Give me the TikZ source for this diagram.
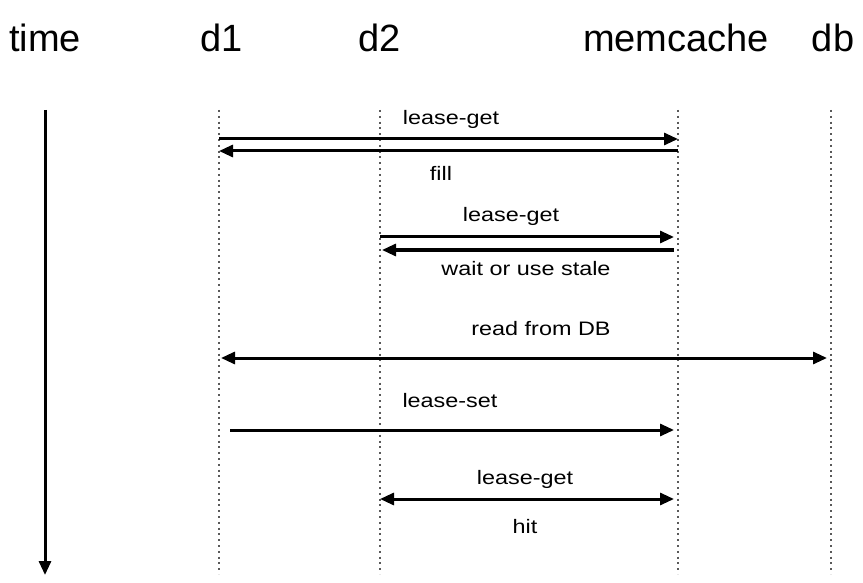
\documentclass[tikz,border=0pt]{standalone}
\usepackage{fontspec}
\setmainfont{Liberation Sans}
\usetikzlibrary{arrows.meta}
\begin{document}
\begin{tikzpicture}[x=1pt,y=-1pt,
  hdr/.style={anchor=base,inner sep=0pt,font=\fontsize{38}{40}\selectfont},
  lbl/.style={anchor=base,inner sep=0pt,font=\fontsize{19.5}{21}\selectfont},
  life/.style={draw=black!65,line width=2pt,dash pattern=on 2pt off 3.8pt},
  msg/.style={line width=3pt,-{Triangle[length=14pt,width=12pt]}},
  bmsg/.style={line width=3pt,{Triangle[length=14pt,width=12pt]}-{Triangle[length=14pt,width=12pt]}}
]
\useasboundingbox (0,0) rectangle (863,583);
% headers
\node[hdr] (htime) at (45,52) {time};
\node[hdr] (hd1) at (222,52) {d1};
\node[hdr] (hd2) at (380,52) {d2};
\node[hdr] (hmc) at (676,52) {memcache};
\node[hdr] (hdb) at (833,52) {db};
% lifelines
\coordinate (d1t) at (219,110); \coordinate (d1b) at (219,574);
\coordinate (d2t) at (380,110); \coordinate (d2b) at (380,574);
\coordinate (mct) at (678,110); \coordinate (mcb) at (678,574);
\coordinate (dbt) at (831,110); \coordinate (dbb) at (831,574);
\draw[life] (d1t) -- (d1b);
\draw[life] (d2t) -- (d2b);
\draw[life] (mct) -- (mcb);
\draw[life] (dbt) -- (dbb);
% time arrow
\coordinate (tt) at (45,110); \coordinate (tb) at (45,575);
\draw[msg] (tt) -- (tb);
% message end points
\coordinate (a1s) at (219,139); \coordinate (a1e) at (678,139);
\coordinate (a2s) at (678,151); \coordinate (a2e) at (219,151);
\coordinate (a3s) at (380,237); \coordinate (a3e) at (674,237);
\coordinate (a4s) at (674,250); \coordinate (a4e) at (382,250);
\coordinate (a5s) at (221,358); \coordinate (a5e) at (827,358);
\coordinate (a6s) at (230,430); \coordinate (a6e) at (674,430);
\coordinate (a7s) at (380,499); \coordinate (a7e) at (674,499);
\draw[msg] (a1s) -- (a1e);
\draw[msg] (a2s) -- (a2e);
\draw[msg] (a3s) -- (a3e);
\draw[msg] (a4s) -- (a4e);
\draw[bmsg] (a5s) -- (a5e);
\draw[msg] (a6s) -- (a6e);
\draw[bmsg] (a7s) -- (a7e);
% labels
\node[lbl] (l1) at (451,125) {\scalebox{1.2}[1]{lease-get}};
\node[lbl] (l2) at (441,181) {\scalebox{1.2}[1]{fill}};
\node[lbl] (l3) at (511,222) {\scalebox{1.2}[1]{lease-get}};
\node[lbl] (l4) at (526,276) {\scalebox{1.2}[1]{wait or use stale}};
\node[lbl] (l5) at (541,335) {\scalebox{1.2}[1]{read from DB}};
\node[lbl] (l6) at (450,407) {\scalebox{1.2}[1]{lease-set}};
\node[lbl] (l7) at (525,484) {\scalebox{1.2}[1]{lease-get}};
\node[lbl] (l8) at (525,533) {\scalebox{1.2}[1]{hit}};
\end{tikzpicture}
\end{document}
